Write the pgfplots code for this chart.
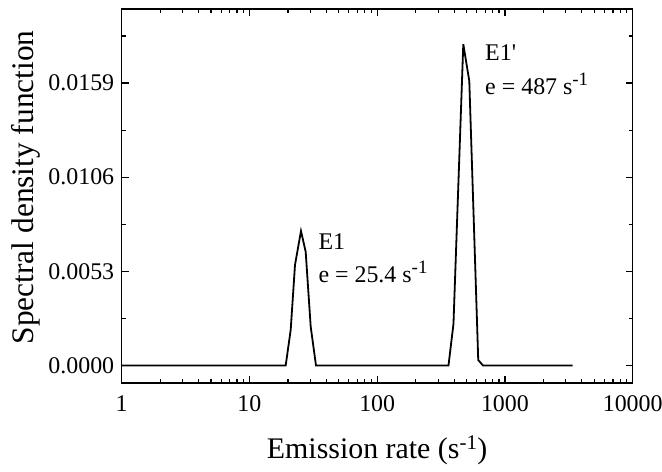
\documentclass[border=0pt]{standalone}
\usepackage{fontspec}
\setmainfont{Liberation Serif}
\usepackage{pgfplots}
\pgfplotsset{compat=1.18}
\usetikzlibrary{calc}

\begin{document}
\begin{tikzpicture}
\begin{axis}[
  name=main,
  scale only axis,
  width=511bp, height=373.4bp,
  xmode=log,
  xmin=1, xmax=10000,
  ymin=-0.000968, ymax=0.02005,
  xtick={1,10,100,1000,10000},
  xticklabels={1,10,100,1000,10000},
  ytick={0,0.0053,0.0106,0.0159},
  yticklabels={0.0000,0.0053,0.0106,0.0159},
  minor ytick={0.00265,0.00795,0.01325,0.01855},
  scaled y ticks=false,
  tick align=inside,
  xtick pos=both, ytick pos=both,
  major tick length=7bp,
  minor tick length=4bp,
  every tick/.style={black, line width=1.2bp},
  axis line style={line width=1.6bp},
  tick label style={font=\fontsize{24}{24}\selectfont},
  xticklabel style={yshift=-9bp},
  yticklabel style={xshift=-4bp},
  xlabel={Emission rate (s\textsuperscript{-1})},
  ylabel={Spectral density function},
  xlabel style={font=\fontsize{30}{30}\selectfont, at={(axis description cs:0.5,-0.203)}, anchor=base},
  ylabel style={font=\fontsize{31.5}{31.5}\selectfont, at={(axis description cs:-0.172,0.523)}, anchor=base, rotate=0},
]
\addplot[black, line width=1.8bp] coordinates {
  (1,0) (19.22,0) (21.03,0.00200) (22.73,0.00566) (25.32,0.00757)
  (27.56,0.00640) (30.17,0.00218) (33.19,0) (361.5,0) (395.5,0.00234)
  (472,0.01809) (526,0.01601) (618,0.00031) (673,0) (3390,0)
};
\node[anchor=base west, font=\fontsize{24}{24}\selectfont] at (axis cs:32.6,0.006557) {E1};
\node[anchor=base west, font=\fontsize{24}{24}\selectfont] at (axis cs:32.6,0.00470) {e = 25.4 s\textsuperscript{\fontsize{19}{19}\selectfont -1}};
\node[anchor=base west, font=\fontsize{24}{24}\selectfont] at (axis cs:658,0.01719) {E1\textquotesingle};
\node[anchor=base west, font=\fontsize{24}{24}\selectfont] at (axis cs:658,0.01528) {e = 487 s\textsuperscript{\fontsize{19}{19}\selectfont -1}};
\end{axis}
\pgfresetboundingbox
\path[use as bounding box] ($(main.south west)+(-121.7bp,-89.3bp)$) rectangle ++(662bp,472bp);
\end{tikzpicture}
\end{document}
